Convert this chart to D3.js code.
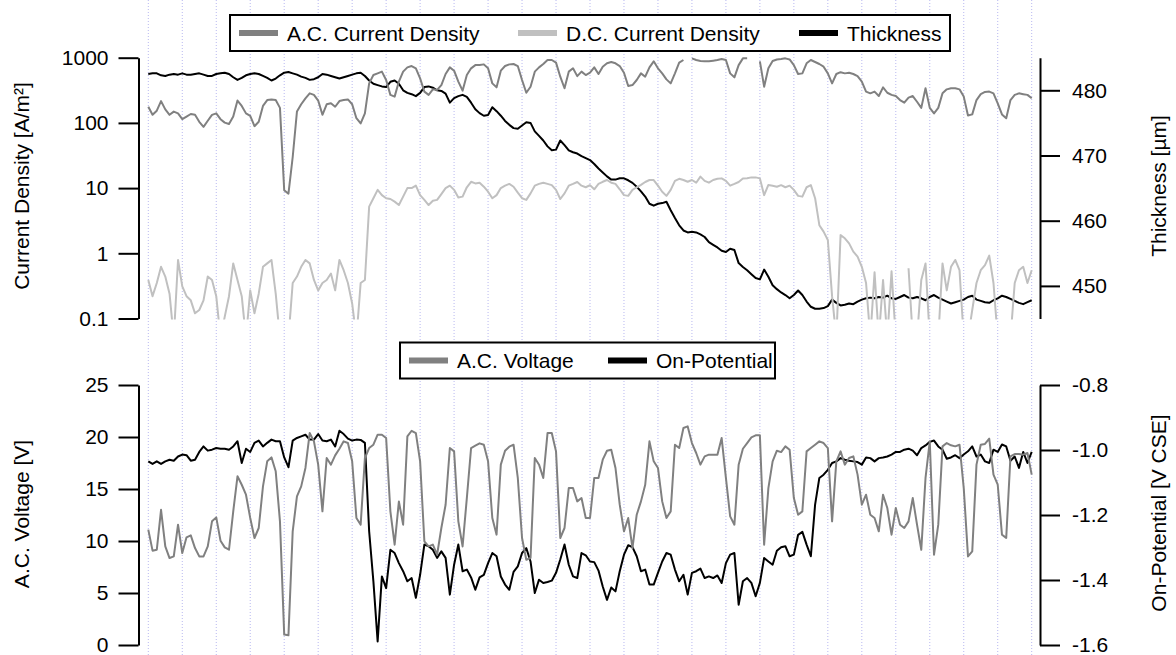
<!DOCTYPE html>
<html>
<head>
<meta charset="utf-8">
<script src="https://cdn.jsdelivr.net/npm/d3@7"></script>
<style>
  body { margin: 0; background: #fff; }
  svg { display: block; font-family: "Liberation Sans", Arial, Helvetica, sans-serif; }
</style>
</head>
<body>
<svg id="chart" width="1176" height="655"></svg>
<script>
// Sampling interval of the logged series, in days
const STEP = 0.125;

// A.C. current density [A/m²] (one row per day)
const acDensity = [
  177, 133, 154, 216, 161, 133, 149, 140,
  114, 125, 137, 133, 104, 87, 108, 133,
  140, 114, 101, 96, 125, 220, 182, 140,
  128, 89, 104, 182, 224, 229, 224, 170,
  9.3, 8.2, 30, 149, 193, 238, 284, 269,
  220, 133, 193, 200, 177, 216, 224, 229,
  193, 118, 98, 140, 404, 542, 575, 611,
  455, 269, 253, 430, 611, 711, 745, 687,
  482, 302, 269, 327, 320, 380, 562, 711,
  632, 430, 312, 542, 687, 770, 770, 790,
  687, 404, 351, 632, 745, 790, 800, 745,
  455, 290, 359, 611, 711, 800, 922, 922,
  840, 511, 340, 611, 687, 522, 611, 542,
  588, 711, 562, 728, 820, 860, 820, 745,
  588, 368, 380, 455, 575, 511, 711, 880,
  687, 575, 465, 404, 575, 840, 922, null,
  977, 922, 890, 880, 880, 900, 922, 955,
  922, 575, 500, 770, 977, 977, null, null,
  880, 359, 687, 890, 940, 955, 977, 940,
  770, 562, 575, 820, 922, 860, 800, 728,
  575, 404, 562, 600, 575, 588, 562, 522,
  430, 302, 284, 302, 258, 351, 290, 269,
  258, 224, 204, 244, 258, 211, 170, 340,
  170, 140, 170, 284, 327, 340, 340, 327,
  253, 130, 135, 224, 276, 298, 302, 284,
  200, 135, 118, 224, 269, 284, 276, 269,
  238
];

// D.C. current density [A/m²]; readings under 0.1 fall below the axis
const dcDensity = [
  0.39, 0.22, 0.35, 0.62, 0.44, 0.24, 0.05, 0.79,
  0.31, 0.22, 0.19, 0.12, 0.135, 0.19, 0.44, 0.39,
  0.22, 0.05, 0.107, 0.22, 0.70, 0.39, 0.22, 0.05,
  0.27, 0.12, 0.24, 0.62, 0.70, 0.79, 0.24, 0.05,
  0.05, 0.05, 0.35, 0.44, 0.62, 0.79, 0.70, 0.39,
  0.27, 0.35, 0.39, 0.49, 0.27, 0.79, 0.55, 0.35,
  0.17, 0.05, 0.35, 0.39, 5.2, 7.0, 9.4, 7.8,
  7.0, 6.8, 6.2, 5.5, 7.4, 10.0, 10.0, 10.9,
  7.8, 6.6, 5.5, 6.4, 6.6, 8.1, 10.0, 10.9,
  9.4, 7.2, 7.4, 10.3, 12.5, 11.8, 12.1, 10.5,
  8.8, 7.0, 7.8, 10.0, 10.9, 11.6, 10.5, 8.5,
  7.0, 6.6, 8.3, 10.9, 11.6, 12.1, 11.6, 11.1,
  9.4, 6.8, 8.3, 10.9, 11.6, 12.4, 10.9, 10.3,
  11.1, 9.6, 11.6, 12.5, 13.3, 12.1, 11.6, 9.6,
  7.8, 7.6, 9.4, 10.3, 11.2, 12.4, 13.3, 13.3,
  10.9, 8.8, 7.6, 9.4, 12.9, 13.9, 13.3, 12.5,
  13.3, 12.1, 15.0, 12.9, 12.1, 13.3, 13.9, 14.1,
  12.9, 10.9, 11.6, 12.4, 14.0, 14.2, 14.6, 14.6,
  14.1, 7.8, 11.2, 10.9, 10.5, 11.1, 10.3, 10.9,
  9.4, 7.6, 7.4, 10.3, 11.1, 7.0, 2.7, 2.15,
  1.6, 0.22, 0.05, 1.9, 1.7, 1.42, 1.06, 0.89,
  0.62, 0.35, 0.05, 0.51, 0.05, 0.39, 0.05, 0.53,
  0.05, 0.05, null, 0.59, 0.05, 0.05, 0.39, 0.70,
  0.05, 0.05, 0.05, 0.70, 0.27, 0.62, 0.79, 0.55,
  0.05, 0.05, 0.135, 0.35, 0.55, 0.66, 0.92, 0.35,
  0.05, 0.05, 0.05, 0.05, 0.35, 0.55, 0.62, 0.35,
  0.55
];

// Coating thickness [µm]
const thickness = [
  482.5, 482.6, 482.6, 482.3, 482.2, 482.4, 482.5, 482.4,
  482.6, 482.4, 482.4, 482.5, 482.6, 482.4, 482.2, 482.2,
  482.5, 482.6, 482.7, 482.5, 482.0, 481.6, 481.9, 482.3,
  482.5, 482.6, 482.5, 482.2, 481.9, 481.5, 481.8, 482.3,
  482.7, 482.8, 482.6, 482.4, 482.1, 481.9, 481.6, 481.7,
  482.0, 482.5, 482.4, 482.2, 482.0, 481.8, 482.0, 482.2,
  482.4, 482.6, 482.7, 482.2, 481.5, 481.0, 480.8, 480.6,
  480.5, 481.3, 481.5, 481.0, 480.0, 479.6, 479.4, 479.1,
  479.6, 480.5, 480.6, 480.4, 480.0, 479.9, 479.5, 478.1,
  478.8, 479.1, 479.3, 479.0, 478.1, 477.1, 476.5, 476.1,
  476.2, 477.4, 476.8, 476.1, 475.3, 474.7, 474.2, 474.1,
  474.6, 475.1, 475.0, 473.7, 473.0, 472.3, 471.4, 470.8,
  470.9, 472.3, 471.6, 470.8, 470.5, 470.3, 469.9, 469.6,
  469.3, 468.7, 468.0, 467.4, 466.8, 466.3, 466.3, 466.5,
  466.5, 466.2, 465.8, 465.2, 464.5, 463.7, 462.6, 462.3,
  462.6, 462.7, 462.9, 461.6, 460.4, 459.3, 458.5, 458.2,
  458.3, 458.2, 457.9, 457.5, 456.7, 456.3, 455.9, 455.4,
  455.2, 455.7, 455.5, 453.5, 452.9, 452.4, 451.8, 451.2,
  451.0, 452.5, 451.4, 450.1, 449.5, 449.0, 448.6, 448.1,
  448.6, 449.3, 448.6, 447.6, 446.8, 446.5, 446.5, 446.6,
  446.9, 447.9, 447.4, 447.0, 447.1, 447.3, 447.2, 447.6,
  447.9, 448.1, 448.2, 448.1, 448.3, 448.2, 448.5, 448.1,
  448.0, 448.3, 448.6, 448.2, 448.1, 448.3, 448.1, 447.8,
  448.3, 448.6, 448.2, 447.9, 447.6, 447.3, 447.5, 447.7,
  447.9, 448.3, 448.5, 447.9, 447.7, 447.5, 447.4, 447.8,
  448.1, 448.5, 448.3, 448.0, 447.7, 447.4, 447.2, 447.5,
  447.8
];

// A.C. voltage [V]
const acVoltage = [
  11.09, 9.07, 9.16, 13.0, 9.48, 8.36, 8.52, 11.57,
  8.84, 10.35, 10.54, 9.32, 8.52, 8.52, 9.48, 11.89,
  12.27, 10.03, 9.39, 9.16, 12.85, 16.22, 15.41, 14.45,
  12.21, 10.29, 11.25, 15.25, 17.66, 18.04, 16.7, 11.89,
  1.0, 0.93, 10.93, 14.29, 15.25, 17.02, 20.38, 19.58,
  17.34, 12.85, 17.98, 17.34, 18.23, 18.87, 19.58, 19.42,
  17.66, 12.21, 11.57, 17.98, 18.94, 19.26, 20.22, 20.22,
  19.9, 12.85, 9.65, 13.8, 11.57, 20.06, 20.6, 20.38,
  17.66, 9.97, 9.48, 9.65, 8.68, 11.25, 13.49, 18.94,
  18.62, 11.89, 9.48, 14.13, 18.94, 19.16, 19.39, 19.26,
  17.66, 12.21, 10.61, 17.34, 18.68, 19.07, 19.26, 16.06,
  10.29, 8.2, 8.36, 17.98, 17.34, 16.06, 20.38, 20.38,
  18.62, 10.29, 11.25, 15.09, 15.09, 13.81, 14.13, 12.21,
  12.21, 16.06, 16.06, 17.82, 18.68, 18.78, 17.02, 13.49,
  10.93, 12.21, 9.32, 12.53, 13.81, 15.41, 19.58, 17.66,
  17.02, 13.81, 12.21, 12.85, 19.26, 18.94, 20.86, 21.02,
  19.42, 18.46, 17.34, 18.14, 18.3, 18.3, 18.3, 19.9,
  16.06, 12.37, 11.57, 17.34, 18.87, 19.42, 19.97, 20.16,
  20.16, 9.65, 15.09, 17.66, 18.68, 18.55, 19.1, 18.78,
  14.13, 12.53, 12.85, 18.62, 18.94, 19.26, 19.58, 19.42,
  18.94, 11.89, 17.66, 18.62, 17.34, 17.98, 18.14, 16.38,
  13.49, 14.45, 12.53, 12.21, 10.93, 14.45, 13.17, 10.61,
  13.17, 11.57, 11.25, 11.89, 14.13, 11.57, 9.16, 16.06,
  19.58, 8.68, 11.57, 19.1, 19.42, 19.2, 19.1, 19.26,
  15.09, 8.52, 9.0, 17.34, 19.26, 19.33, 19.84, 16.38,
  15.41, 10.61, 10.29, 18.14, 18.36, 18.36, 18.3, 18.46,
  16.38
];

// On-potential [V CSE]
const onPotential = [
  -1.035, -1.043, -1.035, -1.043, -1.035, -1.030, -1.033, -1.020,
  -1.014, -1.016, -1.033, -1.030, -1.006, -0.989, -1.002, -0.999,
  -0.994, -0.996, -0.996, -0.999, -0.989, -0.973, -1.040, -0.996,
  -1.006, -0.978, -0.971, -0.989, -0.978, -0.968, -0.973, -0.973,
  -1.023, -1.053, -0.971, -0.963, -0.958, -0.953, -0.968, -0.968,
  -0.951, -0.971, -0.973, -0.968, -0.989, -0.941, -0.951, -0.965,
  -0.971, -0.968, -0.969, -0.978, -1.250, -1.404, -1.589, -1.389,
  -1.425, -1.307, -1.317, -1.348, -1.373, -1.404, -1.394, -1.455,
  -1.384, -1.291, -1.296, -1.307, -1.332, -1.312, -1.332, -1.445,
  -1.353, -1.291, -1.373, -1.368, -1.392, -1.430, -1.392, -1.384,
  -1.348, -1.317, -1.327, -1.389, -1.414, -1.430, -1.375, -1.358,
  -1.317, -1.302, -1.343, -1.440, -1.399, -1.409, -1.406, -1.402,
  -1.378, -1.337, -1.291, -1.353, -1.389, -1.394, -1.317, -1.324,
  -1.343, -1.345, -1.371, -1.420, -1.461, -1.423, -1.435, -1.373,
  -1.322, -1.293, -1.299, -1.327, -1.373, -1.368, -1.414, -1.414,
  -1.378, -1.343, -1.317, -1.322, -1.368, -1.404, -1.384, -1.445,
  -1.378, -1.373, -1.365, -1.394, -1.389, -1.394, -1.386, -1.409,
  -1.348, -1.322, -1.317, -1.476, -1.404, -1.394, -1.409, -1.450,
  -1.409, -1.332, -1.343, -1.353, -1.310, -1.299, -1.296, -1.327,
  -1.322, -1.261, -1.252, -1.291, -1.327, -1.168, -1.086, -1.076,
  -1.061, -1.040, -1.035, -1.025, -1.030, -1.033, -1.035, -1.037,
  -1.045, -1.023, -1.025, -1.035, -1.025, -1.023, -1.020, -1.014,
  -1.006, -1.006, -0.999, -0.996, -1.002, -1.016, -0.994, -0.986,
  -0.975, -0.971, -0.989, -0.999, -1.027, -1.023, -1.016, -1.025,
  -1.014, -1.004, -0.989, -1.020, -1.014, -1.035, -1.040, -0.999,
  -1.006, -0.983, -0.989, -1.033, -1.020, -1.055, -1.006, -1.040,
  -1.006
];

// Axis ticks and their labels
const dayGrid = [0, 1, 2, 3, 4, 5, 6, 7, 8, 9, 10, 11, 12, 13, 14, 15, 16, 17, 18, 19, 20, 21, 22, 23, 24, 25, 26];
const densityTicks = [0.1, 1, 10, 100, 1000];
const densityLabels = ["0.1", "1", "10", "100", "1000"];
const thicknessTicks = [450, 460, 470, 480];
const thicknessLabels = ["450", "460", "470", "480"];
const voltageTicks = [0, 5, 10, 15, 20, 25];
const voltageLabels = ["0", "5", "10", "15", "20", "25"];
const potentialTicks = [-1.6, -1.4, -1.2, -1.0, -0.8];
const potentialLabels = ["-1.6", "-1.4", "-1.2", "-1.0", "-0.8"];

// ---------- layout ----------
const svg = d3.select("#chart");
const W = 1176, H = 655;
const FONT = 21;
const leftAxisX = 138.5, rightAxisX = 1040;
const topPanel = { y0: 57.7, y1: 318.5 };
const botPanel = { y0: 385, y1: 645 };

const x = d3.scaleLinear().domain([0, 26]).range([148.3, 1031.7]);
const yDensity = d3.scaleLog().domain([0.1, 1000]).range([topPanel.y1, topPanel.y0]);
const yThick = d3.scaleLinear().domain([445, 485]).range([topPanel.y1, topPanel.y0]);
const yVolt = d3.scaleLinear().domain([0, 25]).range([botPanel.y1, botPanel.y0]);
const yPot = d3.scaleLinear().domain([-1.6, -0.8]).range([botPanel.y1, botPanel.y0]);

const series = arr => arr.map((v, i) => ({ t: i * STEP, v }));

// vertical dotted day grid across the whole figure
svg.append("g")
  .selectAll("line")
  .data(dayGrid)
  .join("line")
  .attr("x1", d => x(d)).attr("x2", d => x(d))
  .attr("y1", 0).attr("y2", H)
  .attr("stroke", "#b8b8f0")
  .attr("stroke-width", 1)
  .attr("stroke-dasharray", "1,2");

// clip regions of the two panels
const defs = svg.append("defs");
defs.append("clipPath").attr("id", "clipTop").append("rect")
  .attr("x", leftAxisX).attr("y", topPanel.y0 - 1)
  .attr("width", rightAxisX - leftAxisX).attr("height", topPanel.y1 - topPanel.y0 + 2);
defs.append("clipPath").attr("id", "clipBot").append("rect")
  .attr("x", leftAxisX).attr("y", botPanel.y0 - 1)
  .attr("width", rightAxisX - leftAxisX).attr("height", botPanel.y1 - botPanel.y0 + 2);

function drawLine(g, data, yScale, color) {
  const line = d3.line()
    .defined(d => d.v != null)
    .x(d => x(d.t))
    .y(d => yScale(d.v));
  g.append("path")
    .datum(data)
    .attr("fill", "none")
    .attr("stroke", color)
    .attr("stroke-width", 2)
    .attr("stroke-linejoin", "round")
    .attr("d", line);
}

// top panel: current densities and thickness
const gTop = svg.append("g").attr("clip-path", "url(#clipTop)");
drawLine(gTop, series(thickness), yThick, "#000000");
drawLine(gTop, series(acDensity), yDensity, "#808080");
drawLine(gTop, series(dcDensity), yDensity, "#c0c0c0");

// bottom panel: A.C. voltage and on-potential
const gBot = svg.append("g").attr("clip-path", "url(#clipBot)");
drawLine(gBot, series(onPotential), yPot, "#000000");
drawLine(gBot, series(acVoltage), yVolt, "#808080");

// axes
function styleAxis(g) {
  g.select(".domain").attr("stroke", "#000").attr("stroke-width", 2);
  g.selectAll(".tick line").attr("stroke", "#000").attr("stroke-width", 2);
  g.selectAll(".tick text")
    .attr("fill", "#000")
    .style("font-size", FONT + "px")
    .style("font-family", '"Liberation Sans", Arial, sans-serif');
}
function leftAxis(scale, ticks, labels) {
  svg.append("g")
    .attr("transform", `translate(${leftAxisX},0)`)
    .call(d3.axisLeft(scale).tickValues(ticks)
      .tickFormat((d, i) => labels[i]).tickSize(20).tickSizeOuter(0).tickPadding(10))
    .call(styleAxis);
}
function rightAxis(scale, ticks, labels) {
  svg.append("g")
    .attr("transform", `translate(${rightAxisX},0)`)
    .call(d3.axisRight(scale).tickValues(ticks)
      .tickFormat((d, i) => labels[i]).tickSize(20).tickSizeOuter(0).tickPadding(12))
    .call(styleAxis);
}
leftAxis(yDensity, densityTicks, densityLabels);
rightAxis(yThick, thicknessTicks, thicknessLabels);
leftAxis(yVolt, voltageTicks, voltageLabels);
rightAxis(yPot, potentialTicks, potentialLabels);

// rotated axis titles
function axisTitle(text, cx, cy) {
  svg.append("text")
    .attr("transform", `translate(${cx},${cy}) rotate(-90)`)
    .attr("text-anchor", "middle")
    .style("font-size", FONT + "px")
    .attr("fill", "#000")
    .text(text);
}
axisTitle("Current Density [A/m²]", 28.5, 186);
axisTitle("Thickness [µm]", 1165.5, 186);
axisTitle("A.C. Voltage [V]", 28.5, 514);
axisTitle("On-Potential [V CSE]", 1165.5, 513);

// legends
function legend(box, items) {
  const g = svg.append("g");
  g.append("rect")
    .attr("x", box.x).attr("y", box.y).attr("width", box.w).attr("height", box.h)
    .attr("fill", "#fff").attr("stroke", "#000").attr("stroke-width", 2);
  const mid = box.y + box.h / 2;
  items.forEach(it => {
    g.append("line")
      .attr("x1", it.x).attr("x2", it.x + 39)
      .attr("y1", mid).attr("y2", mid)
      .attr("stroke", it.color).attr("stroke-width", 6);
    g.append("text")
      .attr("x", it.x + 48).attr("y", mid + 7.5)
      .style("font-size", FONT + "px")
      .attr("fill", "#000")
      .text(it.label);
  });
}
legend({ x: 230, y: 15, w: 720, h: 36 }, [
  { x: 239, color: "#808080", label: "A.C. Current Density" },
  { x: 518, color: "#c0c0c0", label: "D.C. Current Density" },
  { x: 799, color: "#000000", label: "Thickness" }
]);
legend({ x: 400, y: 342.5, w: 375, h: 36 }, [
  { x: 409, color: "#808080", label: "A.C. Voltage" },
  { x: 608, color: "#000000", label: "On-Potential" }
]);
</script>
</body>
</html>
